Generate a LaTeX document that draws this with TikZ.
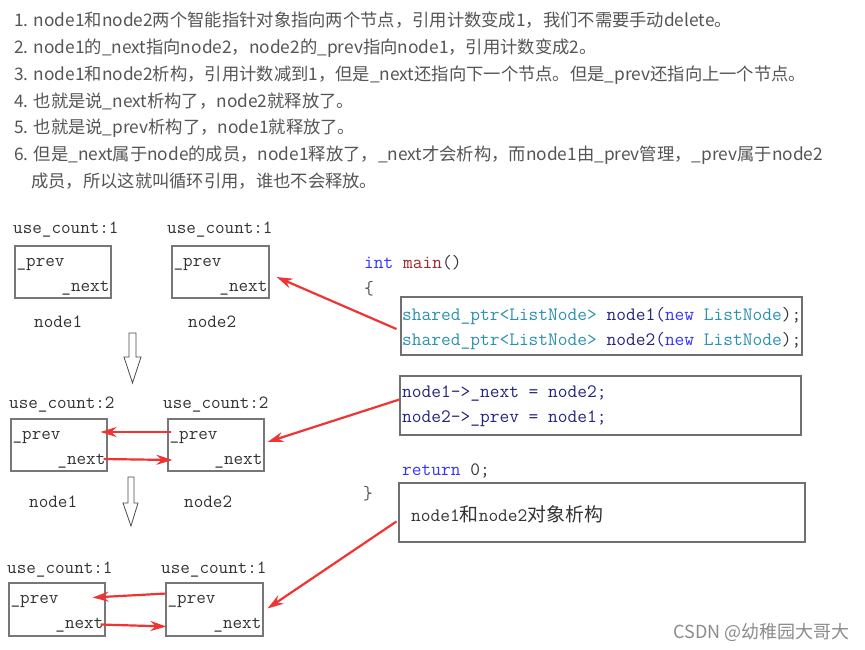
\documentclass[tikz,border=0pt]{standalone}
\usepackage{fontspec}
\newfontfamily\cjk{Noto Sans CJK SC}
\usetikzlibrary{arrows.meta,calc}
\definecolor{txtgray}{HTML}{555555}
\definecolor{boxgray}{HTML}{777777}
\definecolor{codebox}{HTML}{707070}
\definecolor{arrred}{HTML}{F03434}
\definecolor{cblue}{HTML}{3434FF}
\definecolor{cteal}{HTML}{2B91AF}
\definecolor{cnavy}{HTML}{24247E}
\definecolor{cbrown}{HTML}{9A2B2B}
\definecolor{cdark}{HTML}{333333}
\begin{document}
\begin{tikzpicture}[x=1pt,y=-1pt,
  lst/.style={anchor=base west, inner sep=0pt, font=\cjk\fontsize{17.3}{20}\selectfont, text=txtgray},
  mono/.style={anchor=base west, inner sep=0pt, font=\ttfamily\fontsize{18.6}{20}\selectfont, text=cdark},
  code/.style={mono, font=\ttfamily\fontsize{18.9}{20}\selectfont},
  monoe/.style={mono, anchor=base east},
  nbox/.style={draw=boxgray, line width=1.1pt, minimum width=96pt, minimum height=52pt, inner sep=0pt},
  cbox/.style={draw=codebox, line width=1.1pt, inner sep=0pt},
  redarr/.style={draw=arrred, line width=2.2pt, -{Stealth[length=16pt,width=10pt]}},
  hollow/.style={draw=black!70, fill=white, line width=0.8pt}]
\useasboundingbox[fill=white] (0,0) rectangle (865,649);

% ---- numbered explanation ----
\node[lst] (l1) at (14,26) {1. node1和node2两个智能指针对象指向两个节点，引用计数变成1，我们不需要手动delete。};
\node[lst] (l2) at (14,53) {2. node1的\_next指向node2，node2的\_prev指向node1，引用计数变成2。};
\node[lst] (l3) at (14,80) {3. node1和node2析构，引用计数减到1，但是\_next还指向下一个节点。但是\_prev还指向上一个节点。};
\node[lst] (l4) at (14,107) {4. 也就是说\_next析构了，node2就释放了。};
\node[lst] (l5) at (14,133) {5. 也就是说\_prev析构了，node1就释放了。};
\node[lst] (l6) at (14,160) {6. 但是\_next属于node的成员，node1释放了，\_next才会析构，而node1由\_prev管理，\_prev属于node2};
\node[lst] (l7) at (31,187) {成员，所以这就叫循环引用，谁也不会释放。};

% ---- block 1 ----
\node[nbox] (b1) at (63,272) {};
\node[nbox, minimum width=97pt] (b2) at (220.5,272) {};
\node[mono] (u1) at (13,233) {use\_count:1};
\node[mono] (u2) at (167,233) {use\_count:1};
\node[mono] (p1) at ($(b1.north west)+(2,21)$) {\_prev};
\node[monoe] (n1) at ($(b1.north east)+(-2,46)$) {\_next};
\node[mono] (p2) at ($(b2.north west)+(2,21)$) {\_prev};
\node[monoe] (n2) at ($(b2.north east)+(-2,46)$) {\_next};
\node[mono] (t1) at (34,327) {node1};
\node[mono] (t2) at (188,327) {node2};

% hollow arrow 1
\draw[hollow] (129,333) -- (136,333) -- (136,357) -- (141,357) -- (132.5,383) -- (124,357) -- (129,357) -- cycle;

% ---- block 2 ----
\node[nbox] (b3) at (59,445) {};
\node[nbox] (b4) at (216,445) {};
\node[mono] (u3) at (9,408) {use\_count:2};
\node[mono] (u4) at (163,408) {use\_count:2};
\node[mono] (p3) at ($(b3.north west)+(2,21)$) {\_prev};
\node[monoe] (n3) at ($(b3.north east)+(-2,46)$) {\_next};
\node[mono] (p4) at ($(b4.north west)+(2,21)$) {\_prev};
\node[monoe] (n4) at ($(b4.north east)+(-2,46)$) {\_next};
\node[mono] (t3) at (29,507) {node1};
\node[mono] (t4) at (184,507) {node2};

% hollow arrow 2
\draw[hollow] (128,477) -- (134,477) -- (134,503) -- (138,503) -- (131,526) -- (123,503) -- (128,503) -- cycle;

% ---- block 3 ----
\node[nbox, minimum height=53pt] (b5) at (57,609.5) {};
\node[nbox, minimum height=53pt, minimum width=97pt] (b6) at (214.5,609.5) {};
\node[mono] (u5) at (7,573) {use\_count:1};
\node[mono] (u6) at (161,573) {use\_count:1};
\node[mono] (p5) at ($(b5.north west)+(2,21)$) {\_prev};
\node[monoe] (n5) at ($(b5.north east)+(-2,46)$) {\_next};
\node[mono] (p6) at ($(b6.north west)+(2,21)$) {\_prev};
\node[monoe] (n6) at ($(b6.north east)+(-2,46)$) {\_next};

% ---- code ----
\node[code] (c0) at (364,268) {\textcolor{cblue}{int} \textcolor{cbrown}{main}()};
\node[code, text=txtgray] (c1) at (364,294) {\{};
\node[cbox, minimum width=401pt, minimum height=58pt] (cb1) at (601.5,326) {};
\node[code] (c2) at (402,320) {\textcolor{cteal}{shared\_ptr<ListNode>} \textcolor{cnavy}{node1(}\textcolor{cblue}{new} \textcolor{cteal}{ListNode});};
\node[code] (c3) at (402,345) {\textcolor{cteal}{shared\_ptr<ListNode>} \textcolor{cnavy}{node2(}\textcolor{cblue}{new} \textcolor{cteal}{ListNode});};
\node[cbox, minimum width=401pt, minimum height=59pt] (cb2) at (600.5,405.5) {};
\node[code, text=cnavy] (c4) at (402,397) {node1->\_next = node2;};
\node[code, text=cnavy] (c5) at (402,422) {node2->\_prev = node1;};
\node[code] (c6) at (402,475) {\textcolor{cblue}{return} 0;};
\node[code, text=txtgray] (c7) at (363,499) {\}};
\node[cbox, minimum width=406pt, minimum height=59pt] (cb3) at (602,512.5) {};
\node[code] (c8) at (411,521) {node1{\cjk 和}node2{\cjk 对象析构}};

% ---- red arrows ----
\coordinate (a1s) at ($(cb1.west)+(-4,3)$);
\coordinate (a1e) at ($(b2.east)+(7,5)$);
\draw[redarr] (a1s) -- (a1e);
\coordinate (a2s) at ($(cb2.west)+(0,-6)$);
\coordinate (a2e) at ($(b4.east)+(3,-3)$);
\draw[redarr] (a2s) -- (a2e);
\coordinate (a3s) at ($(cb3.west)+(-2,9)$);
\coordinate (a3e) at ($(b6.east)+(4,-1)$);
\draw[redarr] (a3s) -- (a3e);

\coordinate (i1s) at ($(b4.west)+(4,-13)$);
\coordinate (i1e) at ($(b3.east)+(-7,-13)$);
\draw[redarr] (i1s) -- (i1e);
\coordinate (i2s) at ($(b3.east)+(-4,14)$);
\coordinate (i2e) at ($(b4.west)+(5,15)$);
\draw[redarr] (i2s) -- (i2e);

\coordinate (i3s) at ($(b6.west)+(1,-16)$);
\coordinate (i3e) at ($(b5.east)+(-13,-12)$);
\draw[redarr] (i3s) -- (i3e);
\coordinate (i4s) at ($(b5.east)+(-5,15)$);
\coordinate (i4e) at ($(b6.west)+(1,17)$);
\draw[redarr] (i4s) -- (i4e);

% ---- watermark ----
\node[anchor=base east, inner sep=0pt, font=\cjk\fontsize{18}{20}\selectfont, text=black!45] (wm) at (850,638) {CSDN @幼稚园大哥大};
\end{tikzpicture}
\end{document}
